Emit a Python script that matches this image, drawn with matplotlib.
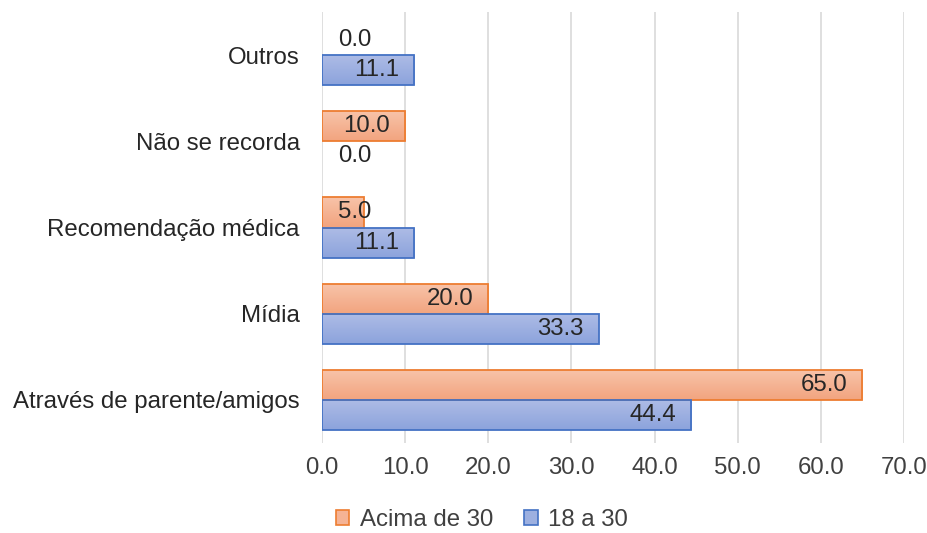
import matplotlib
matplotlib.use("Agg")
import matplotlib.pyplot as plt
import numpy as np
from matplotlib.patches import Rectangle
from matplotlib.colors import LinearSegmentedColormap

categories = ["Através de parente/amigos", "Mídia", "Recomendação médica",
              "Não se recorda", "Outros"]
acima_30 = [65.0, 20.0, 5.0, 10.0, 0.0]
jovens_18_30 = [44.4, 33.3, 11.1, 0.0, 11.1]
series_names = ["Acima de 30", "18 a 30"]
xticks = [0, 10, 20, 30, 40, 50, 60, 70]

plt.rcParams["font.family"] = ["Liberation Sans", "DejaVu Sans"]
FS = 17.3

fig = plt.figure(figsize=(9.28, 5.33), dpi=100)
ax = fig.add_axes([322 / 928, 1 - 443 / 533, (904 - 322) / 928, (443 - 12) / 533])

orange_edge = "#ED7D31"
blue_edge = "#4472C4"
orange_cmap = LinearSegmentedColormap.from_list("o", ["#F8C4AA", "#F2A47F"])
blue_cmap = LinearSegmentedColormap.from_list("b", ["#AEBCE6", "#8CA3DC"])

h = 0.35
y = np.arange(len(categories))


def gradient_bar(x0, yc, w, hh, cmap, edge):
    if w <= 0:
        return
    grad = np.linspace(0, 1, 64).reshape(-1, 1)
    im = ax.imshow(grad, cmap=cmap, aspect="auto",
                   extent=[x0, x0 + w, yc - hh / 2, yc + hh / 2],
                   origin="upper", zorder=2)
    rect = Rectangle((x0, yc - hh / 2), w, hh, facecolor="none",
                     edgecolor=edge, linewidth=1.3, zorder=3)
    ax.add_patch(rect)
    im.set_clip_path(rect)


for i in range(len(categories)):
    gradient_bar(0, y[i] + h / 2, acima_30[i], h, orange_cmap, orange_edge)
    gradient_bar(0, y[i] - h / 2, jovens_18_30[i], h, blue_cmap, blue_edge)

# value labels, placed at the inside end of each bar
for vals, off in ((acima_30, h / 2), (jovens_18_30, -h / 2)):
    for i, v in enumerate(vals):
        ax.annotate(f"{v:.1f}", xy=(max(v, 7.8), y[i] + off),
                    xytext=(-11, 0), textcoords="offset points",
                    ha="right", va="center", fontsize=FS, color="#262626",
                    zorder=4)

ax.set_xlim(0, 70)
ax.set_ylim(-0.5, len(categories) - 0.5)
ax.set_xticks(xticks)
ax.set_xticklabels([f"{t:.1f}" for t in xticks], fontsize=FS, color="#404040")
ax.set_yticks(y)
ax.set_yticklabels(categories, fontsize=FS, color="#262626")
ax.tick_params(axis="both", length=0)
ax.tick_params(axis="y", pad=16)
ax.tick_params(axis="x", pad=10)
ax.grid(axis="x", color="#D9D9D9", linewidth=1.2, zorder=0)
ax.set_axisbelow(True)
for s in ax.spines.values():
    s.set_visible(False)

handles = [Rectangle((0, 0), 1, 1, facecolor="#F5B395", edgecolor=orange_edge, linewidth=1.2),
           Rectangle((0, 0), 1, 1, facecolor="#9DB0E0", edgecolor=blue_edge, linewidth=1.2)]
fig.legend(handles, series_names, loc="center", bbox_to_anchor=(482 / 928, 1 - 520 / 533),
           ncol=2, frameon=False, fontsize=FS, handlelength=0.55, handleheight=0.55,
           handletextpad=0.45, columnspacing=1.3, labelcolor="#404040")

fig.savefig("out.png", dpi=100)
